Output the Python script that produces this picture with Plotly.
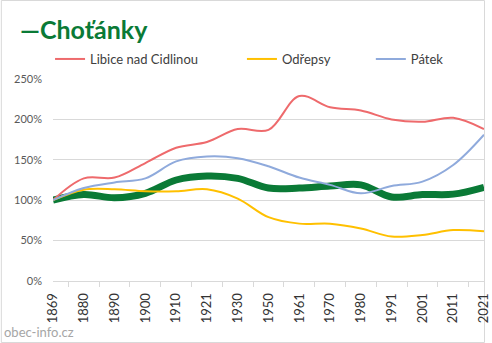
import plotly.graph_objects as go

years = ["1869", "1880", "1890", "1900", "1910", "1921", "1930", "1950",
         "1961", "1970", "1980", "1991", "2001", "2011", "2021"]

chotanky = [100, 107, 103, 108.5, 125, 130, 127, 115, 115, 117.5, 119, 104, 107, 107.5, 116]
libice = [100, 127, 128, 146, 165, 172, 188, 187, 229, 215, 211, 200, 197, 202, 188]
odrepsy = [100, 113, 113.5, 111, 111, 113.5, 102, 79, 71, 71, 65, 55, 57, 63, 61.5]
patek = [100, 115, 122, 127, 148, 154, 152, 142, 128, 119, 108.5, 117.5, 123, 143.5, 181]

y_ticks = [0, 50, 100, 150, 200, 250]

W, H = 492, 343
ML, MR, MT, MB = 53, 1, 79, 62
PW, PH = W - ML - MR, H - MT - MB


def px(x):
    return (x - ML) / PW


def py(y):
    return (H - MB - y) / PH


FONT = "Lato"
fig = go.Figure()

fig.add_trace(go.Scatter(x=years, y=chotanky, mode="lines", name="Choťánky",
                         line=dict(color="#0A7A36", width=7, shape="spline"),
                         showlegend=False))
fig.add_trace(go.Scatter(x=years, y=libice, mode="lines", name="Libice nad Cidlinou",
                         line=dict(color="#EE6A6C", width=2, shape="spline"),
                         legend="legend"))
fig.add_trace(go.Scatter(x=years, y=odrepsy, mode="lines", name="Odřepsy",
                         line=dict(color="#FFC000", width=2, shape="spline"),
                         legend="legend2"))
fig.add_trace(go.Scatter(x=years, y=patek, mode="lines", name="Pátek",
                         line=dict(color="#8FAADC", width=2, shape="spline"),
                         legend="legend3"))

leg_common = dict(orientation="h", yanchor="middle", xanchor="left",
                  font=dict(family=FONT, size=13, color="#404040"),
                  bgcolor="rgba(0,0,0,0)", borderwidth=0, itemwidth=30)
fig.update_layout(
    legend=dict(x=px(50), y=py(59), **leg_common),
    legend2=dict(x=px(245), y=py(59), **leg_common),
    legend3=dict(x=px(376), y=py(59), **leg_common),
)

fig.update_layout(
    width=W, height=H,
    margin=dict(l=ML, r=MR, t=MT, b=MB, pad=0),
    paper_bgcolor="white", plot_bgcolor="white",
    font=dict(family=FONT, color="#595959"),
    xaxis=dict(type="category", showgrid=False, showline=True, linecolor="#D9D9D9",
               linewidth=1, ticks="outside", tickson="boundaries", ticklen=5,
               tickcolor="#D9D9D9", tickangle=-90, ticklabelstandoff=6,
               tickfont=dict(family=FONT, size=13, color="#333333"), zeroline=False),
    yaxis=dict(range=[0, 250], tickvals=y_ticks,
               ticktext=[f"{v}%" for v in y_ticks], showgrid=True,
               gridcolor="#D9D9D9", gridwidth=1, zeroline=False, showline=False,
               ticks="", ticklabelstandoff=10,
               tickfont=dict(family=FONT, size=11, color="#595959")),
    annotations=[
        dict(text="<b>—Choťánky</b>", xref="paper", yref="paper", x=px(17), y=py(29),
             xanchor="left", yanchor="middle", showarrow=False,
             font=dict(family=FONT, size=25, color="#0A7A36")),
        dict(text="obec-info.cz", xref="paper", yref="paper", x=px(1), y=py(332),
             xanchor="left", yanchor="middle", showarrow=False,
             font=dict(family=FONT, size=13, color="#A6A6A6")),
    ],
    shapes=[dict(type="rect", xref="paper", yref="paper", x0=px(0.5), x1=px(491.5),
                 y0=py(342.5), y1=py(0.5), line=dict(color="#D9D9D9", width=1),
                 layer="below")],
)

fig.write_html("out.html")
